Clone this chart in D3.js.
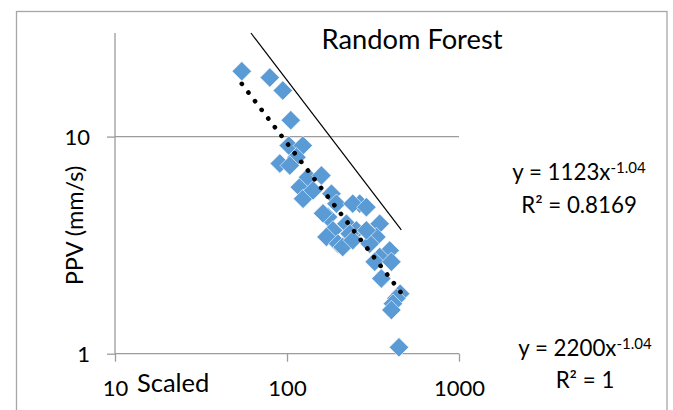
<!DOCTYPE html>
<html>
<head>
<meta charset="utf-8">
<script src="https://cdn.jsdelivr.net/npm/d3@7"></script>
<style>
body { margin: 0; background: #fff; }
svg { display: block; font-family: Lato, Carlito, Calibri, sans-serif; }
</style>
</head>
<body>
<div id="chart"></div>
<script>
var titleText = "Random Forest";
var xTitle = "Scaled";
var yTitle = "PPV (mm/s)";
var xTicks = [10, 100, 1000];
var yTicks = [1, 10];

// measured points: scaled distance vs PPV
var distX = [54.6, 79.4, 94.5, 105.2, 102.4, 123.5, 113.5, 90.8, 103.8, 118.7,
    132.6, 158.6, 124, 141.8, 181.3, 173.3, 185.2, 221.6, 253.2, 264.7,
    193.9, 169.6, 198.1, 231.6, 210.9, 345.8, 330.9, 395.4, 345.8, 302.6,
    323.6, 404.5, 353.8, 455, 432.4, 413.1, 404.5, 447.7, 241.1, 289.5,
    289.5, 241.1, 162];
var ppvY = [20.0, 18.7, 16.3, 11.9, 9.09, 9.09, 8.03, 7.52, 7.36, 5.85,
    6.50, 6.62, 5.17, 5.65, 5.46, 4.26, 3.70, 3.97, 3.70, 4.91,
    4.91, 3.45, 3.21, 3.57, 3.10, 3.97, 3.45, 2.99, 2.79, 3.21,
    2.65, 2.65, 2.22, 1.89, 1.80, 1.70, 1.59, 1.07, 4.91, 4.73,
    3.70, 3.33, 4.43];

// power trendline (dotted) and the upper line series, end points
var trendX = [54.6, 458];
var trendY = [17.5, 1.92];
var limitX = [61.7, 462];
var limitY = [30, 3.72];

var eq1 = ["y = 1123x", "-1.04", "R\u00b2 = 0.8169"];
var eq2 = ["y = 2200x", "-1.04", "R\u00b2 = 1"];

var width = 673, height = 410;
var plotLeft = 115, plotRight = 459, plotTop = 33, plotBottom = 353.7;
var axisColor = "#9c9c9c";
var blue = "#5b9bd5";
var font = "Lato, Carlito, Calibri, sans-serif";

var svg = d3.select("#chart").append("svg")
    .attr("width", width)
    .attr("height", height);

// chart border
svg.append("rect")
    .attr("x", 16.5).attr("y", 11.5)
    .attr("width", 650.5).attr("height", 430)
    .attr("fill", "none")
    .attr("stroke", "#a6a6a6")
    .attr("stroke-width", 1.3);

var x = d3.scaleLog().domain([10, 1000]).range([plotLeft, plotRight]);
var y = d3.scaleLog().domain([1, 30]).range([plotBottom, plotTop]);

// gridline at 10
svg.append("g").selectAll("line")
    .data(yTicks.filter(function(d){ return d > 1; }))
    .join("line")
    .attr("x1", plotLeft).attr("x2", plotRight)
    .attr("y1", function(d){ return y(d); })
    .attr("y2", function(d){ return y(d); })
    .attr("stroke", axisColor)
    .attr("stroke-width", 1.3);

var yAxis = svg.append("g")
    .attr("transform", "translate(" + plotLeft + ",0)")
    .call(d3.axisLeft(y).tickValues(yTicks).tickSize(8).tickSizeOuter(0).tickFormat(d3.format("d")));
yAxis.select(".domain").attr("stroke", axisColor).attr("stroke-width", 1.3)
    .attr("d", "M0," + plotTop + "V" + plotBottom);
yAxis.selectAll(".tick line").attr("stroke", axisColor).attr("stroke-width", 1.3);
yAxis.selectAll(".tick text")
    .attr("x", -25).attr("dy", "0.36em")
    .attr("font-size", 22).attr("fill", "#000");

var xAxis = svg.append("g")
    .attr("transform", "translate(0," + plotBottom + ")")
    .call(d3.axisBottom(x).tickValues(xTicks).tickSize(8).tickSizeOuter(0).tickFormat(d3.format("d")));
xAxis.select(".domain").attr("stroke", axisColor).attr("stroke-width", 1.3)
    .attr("d", "M" + plotLeft + ",0H" + plotRight);
xAxis.selectAll(".tick line").attr("stroke", axisColor).attr("stroke-width", 1.3);
xAxis.selectAll(".tick text")
    .attr("y", 42).attr("dy", 0)
    .attr("font-size", 22).attr("fill", "#000");
svg.selectAll(".tick text").attr("font-family", font);
yAxis.attr("font-family", font);
xAxis.attr("font-family", font);

// upper line series
svg.append("path")
    .datum(d3.zip(limitX, limitY))
    .attr("d", d3.line().x(function(d){ return x(d[0]); }).y(function(d){ return y(d[1]); }))
    .attr("fill", "none")
    .attr("stroke", "#000")
    .attr("stroke-width", 1.2);

// diamonds
var pts = d3.zip(distX, ppvY);
var r = 9.7;
svg.append("g").selectAll("path")
    .data(pts)
    .join("path")
    .attr("transform", function(d){ return "translate(" + x(d[0]) + "," + y(d[1]) + ")"; })
    .attr("d", "M0," + (-r) + "L" + r + ",0L0," + r + "L" + (-r) + ",0Z")
    .attr("fill", blue)
    .attr("stroke", "#fff")
    .attr("stroke-width", 0.6);

// dotted trendline
svg.append("path")
    .datum(d3.zip(trendX, trendY))
    .attr("d", d3.line().x(function(d){ return x(d[0]); }).y(function(d){ return y(d[1]); }))
    .attr("fill", "none")
    .attr("stroke", "#000")
    .attr("stroke-width", 4.6)
    .attr("stroke-linecap", "round")
    .attr("stroke-dasharray", "0.1 10.8");

// texts
svg.append("text")
    .attr("x", 412).attr("y", 49)
    .attr("text-anchor", "middle")
    .attr("font-size", 27.3)
    .text(titleText);

svg.append("text")
    .attr("x", 137).attr("y", 391.5)
    .attr("font-size", 25.5)
    .text(xTitle);

svg.append("text")
    .attr("transform", "translate(83,225.5) rotate(-90)")
    .attr("text-anchor", "middle")
    .attr("font-size", 23.5)
    .text(yTitle);

function equation(eq, cx, y1, y2){
    var t = svg.append("text")
        .attr("x", cx).attr("y", y1)
        .attr("text-anchor", "middle")
        .attr("font-size", 22.3);
    t.append("tspan").text(eq[0]);
    t.append("tspan").attr("dy", -7.5).attr("font-size", 15).text(eq[1]);
    svg.append("text")
        .attr("x", cx).attr("y", y2)
        .attr("text-anchor", "middle")
        .attr("font-size", 22.3)
        .text(eq[2]);
}
equation(eq1, 579, 180, 213);
equation(eq2, 585, 356, 388);
</script>
</body>
</html>
